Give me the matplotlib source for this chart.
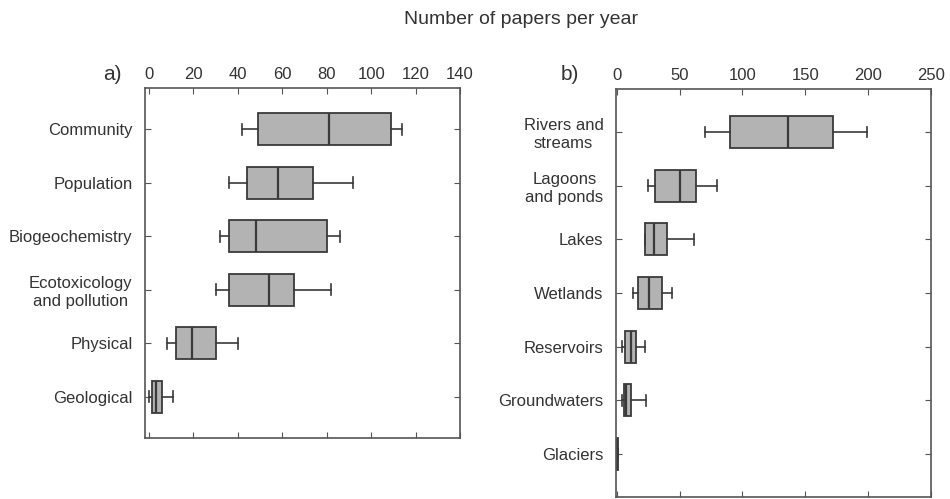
import matplotlib
matplotlib.use("Agg")
import matplotlib.pyplot as plt

plt.rcParams['font.family'] = ['Liberation Sans', 'DejaVu Sans']

# a) research topics
topics = ['Community', 'Population', 'Biogeochemistry',
          'Ecotoxicology\nand pollution', 'Physical', 'Geological']
topic_whislo = [42, 36, 32, 30, 8, 0]
topic_q1 = [49, 44, 36, 36, 12, 1.5]
topic_med = [81, 58, 48, 54, 19.5, 3]
topic_q3 = [109, 74, 80, 65.5, 30, 6]
topic_whishi = [114, 92, 86, 82, 40, 11]

# b) water body types
waters = ['Rivers and\nstreams', 'Lagoons\nand ponds', 'Lakes', 'Wetlands',
          'Reservoirs', 'Groundwaters', 'Glaciers']
water_whislo = [70, 25, 22.5, 13, 4, 4, 0]
water_q1 = [90, 30, 22.5, 17, 6.5, 5.5, 0]
water_med = [136, 50, 29.5, 25.5, 11, 7.5, 0.3]
water_q3 = [172, 63, 39.5, 35.5, 15, 11.5, 0.8]
water_whishi = [199, 80, 61, 44, 22, 23.5, 1]

a_ticks = [0, 20, 40, 60, 80, 100, 120, 140]
b_ticks = [0, 50, 100, 150, 200, 250]

box_fc = '#b3b3b3'
edge = '#3a3a3a'
txt = '#333333'


def make_stats(names, lo, q1, med, q3, hi):
    out = []
    for i in range(len(names)):
        out.append(dict(label=names[i], whislo=lo[i], q1=q1[i], med=med[i],
                        q3=q3[i], whishi=hi[i], fliers=[]))
    return out


def draw(ax, stats, ticks, xlim):
    n = len(stats)
    pos = list(range(1, n + 1))
    ax.bxp(stats, positions=pos, vert=False, widths=0.6, capwidths=0.2,
           patch_artist=True, showfliers=False,
           boxprops=dict(facecolor=box_fc, edgecolor=edge, linewidth=1.3),
           medianprops=dict(color=edge, linewidth=1.6),
           whiskerprops=dict(color=edge, linewidth=1.2),
           capprops=dict(color=edge, linewidth=1.2))
    ax.set_xlim(*xlim)
    ax.set_ylim(n + 0.8, 0.2)
    ax.set_xticks(ticks)
    ax.set_yticks(pos)
    ax.set_yticklabels([s['label'] for s in stats], multialignment='center')
    ax.xaxis.tick_top()
    ax.tick_params(axis='x', which='both', direction='in', top=True, bottom=True,
                   labeltop=True, labelbottom=False, length=4, pad=4,
                   labelsize=12, labelcolor=txt, color='#555555')
    ax.tick_params(axis='y', direction='in', left=True, right=True, length=4,
                   pad=9, labelsize=12, labelcolor=txt, color='#555555')
    for s in ax.spines.values():
        s.set_color('#555555')
        s.set_linewidth(1.2)


fig = plt.figure(figsize=(9.5, 4.99), dpi=100)
ax1 = fig.add_axes([0.1526, 0.1222, 0.3316, 0.7014])
ax2 = fig.add_axes([0.6484, 0.004, 0.3313, 0.8176])

draw(ax1, make_stats(topics, topic_whislo, topic_q1, topic_med, topic_q3, topic_whishi),
     a_ticks, (-1.8, 140))
ax1.set_ylim(6.77, 0.23)
draw(ax2, make_stats(waters, water_whislo, water_q1, water_med, water_q3, water_whishi),
     b_ticks, (-0.8, 250))

fig.text(0.548, 0.96, 'Number of papers per year', ha='center', va='center',
         fontsize=14, color=txt)
fig.text(0.118, 0.85, 'a)', ha='center', va='center', fontsize=15, color=txt)
fig.text(0.6, 0.85, 'b)', ha='center', va='center', fontsize=15, color=txt)

fig.savefig('out.png', dpi=100)
